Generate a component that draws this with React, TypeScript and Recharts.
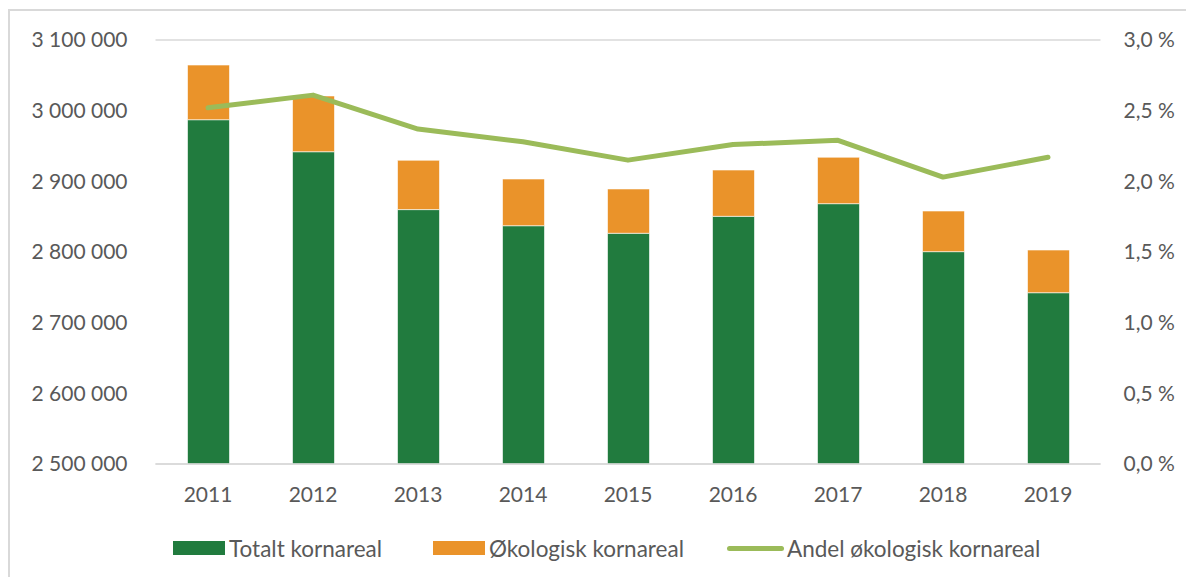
import React from 'react';
import { ComposedChart, Bar, Line, XAxis, YAxis, CartesianGrid } from 'recharts';

const years = ['2011', '2012', '2013', '2014', '2015', '2016', '2017', '2018', '2019'];
const totalt = [2987200, 2941900, 2860000, 2837200, 2826500, 2850500, 2868400, 2800500, 2742400];
const okologisk = [77400, 78900, 69800, 66100, 62700, 65500, 65700, 57500, 60400];
const andel = [2.52, 2.61, 2.37, 2.28, 2.15, 2.26, 2.29, 2.03, 2.17];

const leftTicks = [2500000, 2600000, 2700000, 2800000, 2900000, 3000000, 3100000];
const rightTicks = [0, 0.5, 1, 1.5, 2, 2.5, 3];

const GREEN = '#217B3E';
const ORANGE = '#EA932A';
const LINE = '#9BBB59';
const TEXT = '#595959';
const FONT = 'Lato, "Open Sans", sans-serif';

const data = years.map((y, i) => ({
  year: y,
  totalt: totalt[i],
  okologisk: okologisk[i],
  andel: andel[i],
}));

const fmtLeft = (v: number) => String(v).replace(/\B(?=(\d{3})+(?!\d))/g, ' ');
const fmtRight = (v: number) => v.toFixed(1).replace('.', ',') + ' %';

const tick = { fill: TEXT, fontSize: 21, fontFamily: FONT };

const legendItems = [
  { label: 'Totalt kornareal', color: GREEN, kind: 'box', x: 173 },
  { label: 'Økologisk kornareal', color: ORANGE, kind: 'box', x: 433 },
  { label: 'Andel økologisk kornareal', color: LINE, kind: 'line', x: 727 },
];

export default function App() {
  return (
    <div style={{ position: 'absolute', left: 0, top: 0, width: 1186, height: 577, background: '#fff', overflow: 'hidden' }}>
      <div
        style={{
          position: 'absolute',
          left: 8,
          top: 9,
          width: 1200,
          height: 600,
          borderTop: '2px solid #D9D9D9',
          borderLeft: '2px solid #D9D9D9',
        }}
      />
      <div style={{ position: 'absolute', left: 0, top: 0 }}>
        <ComposedChart
          width={1186}
          height={577}
          data={data}
          margin={{ top: 40, right: 0, left: 0, bottom: 83 }}
          barCategoryGap={63}
        >
          <CartesianGrid vertical={false} stroke="#D9D9D9" strokeWidth={1.3} />
          <XAxis
            dataKey="year"
            height={30}
            axisLine={{ stroke: '#D9D9D9', strokeWidth: 1.3 }}
            tickLine={false}
            tick={tick}
            tickMargin={17}
          />
          <YAxis
            yAxisId="left"
            width={155.5}
            domain={[2500000, 3100000]}
            ticks={leftTicks}
            allowDataOverflow
            axisLine={false}
            tickLine={false}
            tick={tick}
            tickMargin={22}
            tickFormatter={fmtLeft}
          />
          <YAxis
            yAxisId="right"
            orientation="right"
            width={85.5}
            domain={[0, 3]}
            ticks={rightTicks}
            axisLine={false}
            tickLine={false}
            tick={tick}
            tickMargin={17}
            tickFormatter={fmtRight}
          />
          <Bar yAxisId="left" dataKey="totalt" stackId="a" fill={GREEN} stroke="#fff" strokeWidth={0.6} barSize={42} isAnimationActive={false} />
          <Bar yAxisId="left" dataKey="okologisk" stackId="a" fill={ORANGE} stroke="#fff" strokeWidth={0.6} barSize={42} isAnimationActive={false} />
          <Line
            yAxisId="right"
            dataKey="andel"
            stroke={LINE}
            strokeWidth={5}
            strokeLinecap="round"
            strokeLinejoin="round"
            dot={false}
            activeDot={false}
            type="linear"
            isAnimationActive={false}
          />
        </ComposedChart>
      </div>
      {legendItems.map((it) => (
        <div
          key={it.label}
          style={{
            position: 'absolute',
            top: 533,
            left: it.x,
            height: 30,
            display: 'flex',
            alignItems: 'center',
            fontFamily: FONT,
            fontSize: 22.5,
            color: TEXT,
            whiteSpace: 'nowrap',
          }}
        >
          {it.kind === 'box' ? (
            <span style={{ display: 'inline-block', width: 52, height: 14, background: it.color, marginRight: 4 }} />
          ) : (
            <span style={{ display: 'inline-block', width: 57, height: 5, borderRadius: 3, background: it.color, marginRight: 3 }} />
          )}
          <span>{it.label}</span>
        </div>
      ))}
    </div>
  );
}
